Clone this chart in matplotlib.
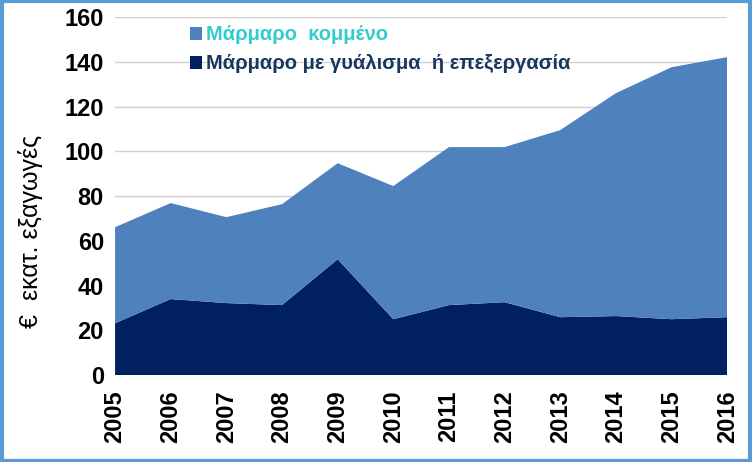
import matplotlib.pyplot as plt
from matplotlib.patches import Rectangle

# Data
years = [2005, 2006, 2007, 2008, 2009, 2010, 2011, 2012, 2013, 2014, 2015, 2016]
polished = [23.2, 34.0, 32.2, 31.3, 51.8, 25.0, 31.3, 32.6, 25.9, 26.4, 25.0, 25.9]
cut = [42.9, 42.9, 38.4, 45.1, 42.9, 59.5, 70.6, 69.3, 83.6, 99.6, 112.6, 116.2]
labels = ['Μάρμαρο  κομμένο', 'Μάρμαρο με γυάλισμα  ή επεξεργασία']
yticks = [0, 20, 40, 60, 80, 100, 120, 140, 160]

plt.rcParams['font.family'] = ['Liberation Sans', 'DejaVu Sans']

fig = plt.figure(figsize=(7.52, 4.62), dpi=100)
ax = fig.add_axes([0.153, 0.188, 0.814, 0.775])

ax.stackplot(years, polished, cut, colors=['#002060', '#4F81BD'],
             labels=[labels[1], labels[0]], zorder=2)

ax.set_xlim(2005, 2016)
ax.set_ylim(0, 160)
ax.set_yticks(yticks)
ax.set_xticks(years)
ax.set_xticklabels([str(y) for y in years], rotation=90)
ax.grid(axis='y', color='#D0D0D0', linewidth=1, zorder=0)
ax.set_axisbelow(True)
for s in ax.spines.values():
    s.set_visible(False)
ax.tick_params(axis='y', length=0, pad=8)
ax.tick_params(axis='x', length=0, pad=11)
for t in ax.get_xticklabels():
    t.set_fontweight('bold')
    t.set_fontsize(17)
for t in ax.get_yticklabels():
    t.set_fontweight('bold')
    t.set_fontsize(17)

fig.text(0.041, 0.498, '€  εκατ. εξαγωγές', rotation=90, fontsize=18,
         ha='center', va='center')

# legend (reversed order, coloured text)
h, l = ax.get_legend_handles_labels()
leg = ax.legend(h[::-1], l[::-1], loc='upper left', bbox_to_anchor=(0.106, 1.005),
                frameon=False, prop={'weight': 'bold', 'size': 14.5},
                handlelength=0.6, handleheight=0.6, borderpad=0,
                handletextpad=0.2, labelspacing=0.5)
leg.get_texts()[0].set_color('#33CCCC')
leg.get_texts()[1].set_color('#17375E')

# outer border
fig.patches.append(Rectangle((0.002, 0.003), 0.996, 0.994, transform=fig.transFigure,
                             fill=False, edgecolor='#5B9BD5', linewidth=3))

fig.savefig('out.png', dpi=100)
